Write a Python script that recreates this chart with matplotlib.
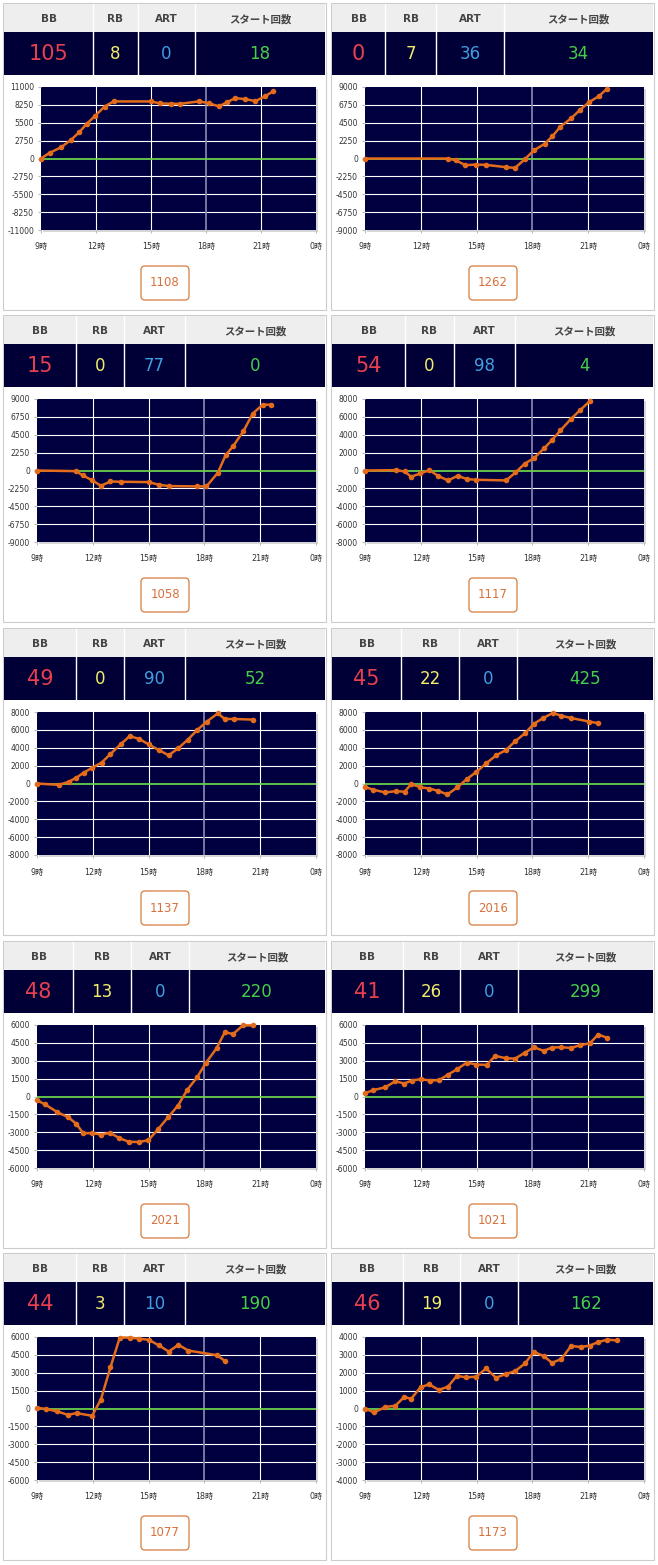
import numpy as np
import matplotlib.pyplot as plt
from matplotlib.patches import Rectangle, FancyBboxPatch

plt.rcParams['font.family'] = ['DejaVu Sans', 'Noto Sans CJK JP']

W, H = 658, 1565

# counters in the table above each chart
bb_counts = [105, 0, 15, 54, 49, 45, 48, 41, 44, 46]
rb_counts = [8, 7, 0, 0, 0, 22, 13, 26, 3, 19]
art_counts = [0, 36, 77, 98, 90, 0, 0, 0, 10, 0]
start_counts = [18, 34, 0, 4, 52, 425, 220, 299, 190, 162]
machine_ids = [1108, 1262, 1058, 1117, 1137, 2016, 2021, 1021, 1077, 1173]
y_limits = [11000, 9000, 9000, 8000, 8000, 8000, 6000, 6000, 6000, 4000]

header_labels = ['BB', 'RB', 'ART', 'スタート回数']
hour_ticks = [9, 12, 15, 18, 21, 24]
hour_labels = ['9時', '12時', '15時', '18時', '21時', '0時']

# coin difference over the day (hour of day, coins)
hours_1 = [9.0, 9.47, 10.1, 10.65, 11.1, 11.5, 11.96, 12.47, 12.96, 15.0, 15.5, 16.1,
           16.6, 17.6, 18.15, 18.7, 19.15, 19.6, 20.15, 20.7, 21.2, 21.65]
coins_1 = [0, 870, 1730, 2900, 4080, 5360, 6580, 8000, 8780, 8780, 8470, 8420,
           8420, 8780, 8520, 8010, 8670, 9290, 9130, 8830, 9540, 10310]

hours_2 = [9.0, 13.45, 13.9, 14.4, 14.98, 15.5, 16.58, 17.07, 17.6, 18.07, 18.66,
           19.07, 19.5, 20.08, 20.57, 21.06, 21.56, 22.0]
coins_2 = [0, 0, -250, -840, -760, -800, -1090, -1180, -80, 1010, 1850,
           2780, 4000, 5050, 6140, 7110, 7820, 8750]

hours_3 = [9.0, 11.1, 11.46, 11.94, 12.44, 12.95, 13.49, 15.0, 15.55, 16.08, 17.61,
           18.11, 18.72, 19.14, 19.55, 20.09, 20.6, 21.14, 21.6]
coins_3 = [0, -80, -620, -1200, -1920, -1380, -1420, -1460, -1790, -1960, -2000,
           -2000, -290, 1920, 3080, 4920, 7170, 8290, 8290]

hours_4 = [9.0, 10.68, 11.13, 11.48, 11.98, 12.46, 12.95, 13.47, 13.98, 14.48, 14.99,
           16.59, 17.09, 17.6, 18.1, 18.65, 19.07, 19.51, 20.06, 20.56, 21.11]
coins_4 = [0, 40, -110, -700, -330, 40, -630, -1110, -590, -960, -1040,
           -1110, -220, 780, 1410, 2520, 3440, 4480, 5740, 6740, 7810]

hours_5 = [9.0, 10.17, 10.7, 11.1, 11.5, 11.98, 12.47, 12.95, 13.49, 13.98, 14.48,
           15.01, 15.55, 16.08, 16.6, 17.1, 17.62, 18.13, 18.72, 19.09, 19.57, 20.63]
coins_5 = [0, -150, 190, 630, 1190, 1780, 2330, 3300, 4370, 5300, 5000,
           4370, 3740, 3150, 3960, 4890, 6000, 6930, 7850, 7220, 7220, 7150]

hours_6 = [9.0, 9.44, 10.1, 10.68, 11.13, 11.48, 11.98, 12.45, 12.9, 13.43, 13.96,
           14.49, 14.99, 15.52, 16.05, 16.58, 17.08, 17.61, 18.07, 18.56, 19.1,
           19.54, 20.07, 21.05, 21.55]
coins_6 = [-370, -700, -1000, -850, -930, -70, -410, -560, -810, -1220, -440,
           520, 1300, 2260, 3150, 3740, 4740, 5630, 6670, 7300, 7890,
           7590, 7330, 6930, 6740]

hours_7 = [9.0, 9.44, 10.1, 10.68, 11.12, 11.48, 11.98, 12.45, 12.93, 13.43, 13.96,
           14.49, 14.99, 15.52, 16.05, 16.58, 17.08, 17.61, 18.07, 18.66, 19.1,
           19.54, 20.07, 20.6]
coins_7 = [-310, -670, -1320, -1740, -2300, -3080, -3080, -3190, -3050, -3500, -3810,
           -3810, -3670, -2720, -1740, -760, 560, 1620, 2800, 4060, 5400,
           5240, 5970, 5970]

hours_8 = [9.0, 9.44, 10.1, 10.63, 11.11, 11.52, 11.99, 12.49, 12.97, 13.47, 13.95,
           14.48, 14.98, 15.54, 16.0, 16.57, 17.07, 17.58, 18.08, 18.61, 19.05,
           19.55, 20.08, 20.56, 21.09, 21.54, 22.03]
coins_8 = [280, 530, 780, 1280, 1090, 1340, 1450, 1340, 1370, 1840, 2290,
           2850, 2680, 2650, 3410, 3210, 3180, 3660, 4130, 3830, 4110,
           4130, 4080, 4300, 4470, 5200, 4920]

hours_9 = [9.0, 9.46, 10.1, 10.65, 11.13, 11.96, 12.43, 12.95, 13.45, 13.98, 14.47,
           15.01, 15.54, 16.08, 16.6, 17.14, 18.68, 19.12]
coins_9 = [60, -30, -250, -530, -390, -610, 730, 3460, 5950, 5950, 5870,
           5760, 5310, 4780, 5340, 4860, 4470, 3970]

hours_10 = [9.0, 9.48, 10.1, 10.63, 11.11, 11.48, 11.99, 12.45, 12.97, 13.46, 13.94,
            14.44, 14.98, 15.51, 16.04, 16.57, 17.07, 17.6, 18.08, 18.61, 19.05,
            19.55, 20.08, 20.61, 21.09, 21.54, 22.03, 22.56]
coins_10 = [0, -220, 90, 150, 650, 540, 1190, 1350, 1040, 1220, 1830,
            1740, 1780, 2240, 1720, 1930, 2090, 2520, 3170, 2930, 2560,
            2760, 3500, 3440, 3520, 3720, 3850, 3810]

all_hours = [hours_1, hours_2, hours_3, hours_4, hours_5,
             hours_6, hours_7, hours_8, hours_9, hours_10]
all_coins = [coins_1, coins_2, coins_3, coins_4, coins_5,
             coins_6, coins_7, coins_8, coins_9, coins_10]

# layout (pixels)
col_x = [3, 331]
row_y = [3, 315, 628, 941, 1253]
panel_w, panel_h = 323, 307
# column separators of the table, relative to panel left edge
table_edges = [[90, 135, 192], [54, 105, 173], [73, 121, 182], [74, 123, 184],
               [73, 121, 182], [70, 128, 186], [70, 128, 186], [72, 129, 187],
               [73, 121, 182], [72, 129, 187]]

value_colors = ['#e8404f', '#f2ee6a', '#3f9fe0', '#46cf46']
value_sizes = [15, 12, 12, 12]

fig = plt.figure(figsize=(W / 100, H / 100), dpi=100)
fig.patch.set_facecolor('white')

base = fig.add_axes([0, 0, 1, 1])
base.set_xlim(0, W)
base.set_ylim(H, 0)
base.axis('off')

for i in range(10):
    px = col_x[i % 2]
    py = row_y[i // 2]

    base.add_patch(Rectangle((px, py), panel_w, panel_h, fc='white', ec='#cccccc', lw=0.8))
    base.add_patch(Rectangle((px + 1, py + 1), panel_w - 2, 28, fc='#eeeeee', ec='none'))
    base.add_patch(Rectangle((px + 1, py + 29), panel_w - 2, 43, fc='#000036', ec='none'))

    edges = [1] + table_edges[i] + [panel_w - 1]
    for e in table_edges[i]:
        base.plot([px + e, px + e], [py + 1, py + 72], color='white', lw=1)

    values = [bb_counts[i], rb_counts[i], art_counts[i], start_counts[i]]
    for k in range(4):
        cx = px + (edges[k] + edges[k + 1]) / 2
        base.text(cx, py + 16, header_labels[k], ha='center', va='center',
                  fontsize=7.5, fontweight='bold', color='#444444')
        base.text(cx, py + 51, str(values[k]), ha='center', va='center',
                  fontsize=value_sizes[k], color=value_colors[k])

    # chart area
    left = px + (38 if i == 0 else 34)
    right = px + 313
    top = py + 84
    bottom = py + 227
    base.add_patch(Rectangle((left + 2, top + 2), right - left, bottom - top,
                             fc='#d6d6d6', ec='none'))

    ax = fig.add_axes([left / W, 1 - bottom / H, (right - left) / W, (bottom - top) / H])
    ax.set_facecolor('#000040')
    ymax = y_limits[i]
    ax.set_xlim(9, 24)
    ax.set_ylim(-ymax, ymax)
    yt = np.linspace(-ymax, ymax, 9)
    ax.set_yticks(yt)
    ax.set_yticklabels([str(int(v)) for v in yt])
    ax.set_xticks(hour_ticks)
    ax.set_xticklabels(hour_labels)
    for v in yt[1:-1]:
        if v != 0:
            ax.axhline(v, color='white', lw=0.8, zorder=1)
    for h in [12, 15, 21]:
        ax.axvline(h, color='white', lw=0.8, zorder=1)
    ax.axvline(18, color='#8c8cb0', lw=1.2, zorder=1)
    ax.axhline(0, color='#6ad04a', lw=1.3, zorder=2)

    ax.plot(all_hours[i], all_coins[i], color='#e36c1c', lw=1.8,
            marker='o', ms=3, zorder=3, clip_on=False)

    for s in ax.spines.values():
        s.set_visible(False)
    ax.tick_params(axis='y', length=2, color='#bbbbbb', pad=3, labelsize=5.5,
                   labelcolor='#333333')
    ax.tick_params(axis='x', length=2, color='#bbbbbb', pad=7, labelsize=5.8,
                   labelcolor='#333333')

    # machine number button
    base.add_patch(FancyBboxPatch((px + 138, py + 263), 48, 34,
                                  boxstyle='round,pad=0,rounding_size=4',
                                  fc='white', ec='#d98a52', lw=1))
    base.text(px + 162, py + 280, str(machine_ids[i]), ha='center', va='center',
              fontsize=8.5, color='#d8703a')

fig.savefig('out.png', dpi=100)
